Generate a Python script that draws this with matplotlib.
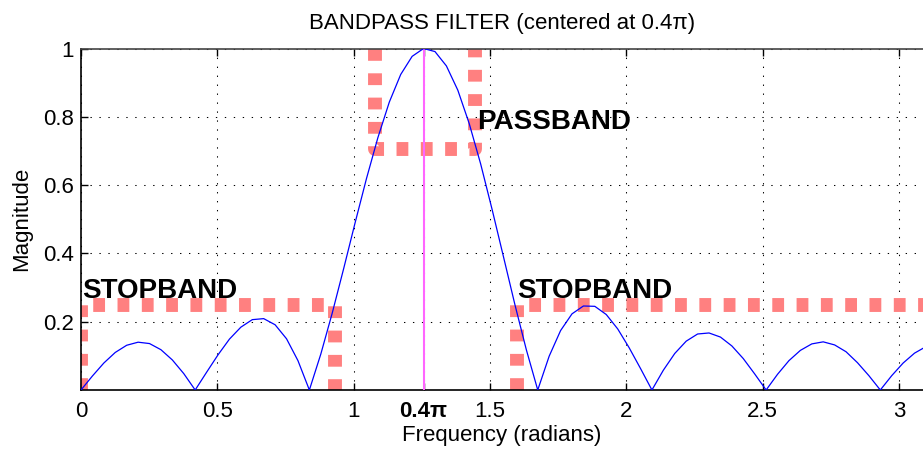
import numpy as np
import matplotlib
matplotlib.use("Agg")
import matplotlib.pyplot as plt

plt.rcParams['font.family'] = ['Liberation Sans', 'DejaVu Sans']

magnitude = [
    0.000, 0.041, 0.079, 0.110, 0.131, 0.140, 0.136, 0.118, 0.088, 0.048,
    0.000, 0.052, 0.103, 0.149, 0.184, 0.206, 0.209, 0.191, 0.150, 0.086,
    0.000, 0.105, 0.225, 0.355, 0.489, 0.619, 0.739, 0.843, 0.924, 0.977,
    1.000, 0.991, 0.949, 0.878, 0.780, 0.662, 0.529, 0.390, 0.250, 0.118,
    0.000, 0.099, 0.174, 0.223, 0.246, 0.245, 0.221, 0.179, 0.124, 0.063,
    0.000, 0.058, 0.107, 0.143, 0.164, 0.167, 0.155, 0.129, 0.092, 0.047,
    0.000, 0.046, 0.086, 0.116, 0.135, 0.141, 0.132, 0.112, 0.080, 0.042,
    0.000, 0.042, 0.079, 0.108, 0.127, 0.133,
]
freq = np.linspace(0, np.pi, len(magnitude))

center = 0.4 * np.pi
stop_left = ([0, 0, 0.93, 0.93], [0, 0.25, 0.25, 0])
pass_box = ([1.08, 1.08, 1.447, 1.447], [1, 0.707, 0.707, 1])
stop_right = ([1.6, 1.6, 3.2], [0, 0.25, 0.25])

xticks = [0, 0.5, 1, center, 1.5, 2, 2.5, 3]
xlabels = ['0', '0.5', '1', '0.4\u03c0', '1.5', '2', '2.5', '3']
yticks = [0.2, 0.4, 0.6, 0.8, 1]
ylabels = ['0.2', '0.4', '0.6', '0.8', '1']

fig = plt.figure(figsize=(9.23, 4.5), dpi=100)
ax = fig.add_axes([81 / 923, 60 / 450, 842 / 923, 341.5 / 450])

red = '#ff8080'
for xs, ys in (stop_left, pass_box, stop_right):
    ax.plot(xs, ys, color=red, lw=10, linestyle=(0, (0.85, 0.9)), zorder=2)

ax.plot([center, center], [0, 1], color='#ff66ff', lw=1.5, zorder=3)
ax.plot(freq, magnitude, color='#0000ff', lw=0.9, zorder=4)

ax.text(0.005, 0.268, 'STOPBAND', fontsize=20, fontweight='bold', zorder=5)
ax.text(1.6, 0.268, 'STOPBAND', fontsize=20, fontweight='bold', zorder=5)
ax.text(1.453, 0.765, 'PASSBAND', fontsize=20, fontweight='bold', zorder=5)

ax.set_xlim(0, 842 / 272.6)
ax.set_ylim(0, 1)
ax.set_xticks(xticks)
ax.set_xticklabels(xlabels)
ax.set_yticks(yticks)
ax.set_yticklabels(ylabels)
for lab in ax.get_xticklabels():
    if '\u03c0' in lab.get_text():
        lab.set_fontweight('bold')

ax.grid(True, color='k', linestyle=(0, (1.3, 7.3)), lw=0.75)
ax.tick_params(direction='in', top=True, right=False, length=5, width=1,
               labelsize=16)
ax.tick_params(axis='x', pad=8)
ax.tick_params(axis='y', pad=5)
ax.spines['right'].set_visible(False)
for s in ('left', 'bottom', 'top'):
    ax.spines[s].set_linewidth(1.2)
ax.spines['top'].set_color('#444444')

ax.set_title('BANDPASS FILTER (centered at 0.4\u03c0)', fontsize=16, pad=14)
ax.set_xlabel('Frequency (radians)', fontsize=16, labelpad=2)
ax.set_ylabel('Magnitude', fontsize=16, labelpad=8)

fig.savefig('out.png', dpi=100)
